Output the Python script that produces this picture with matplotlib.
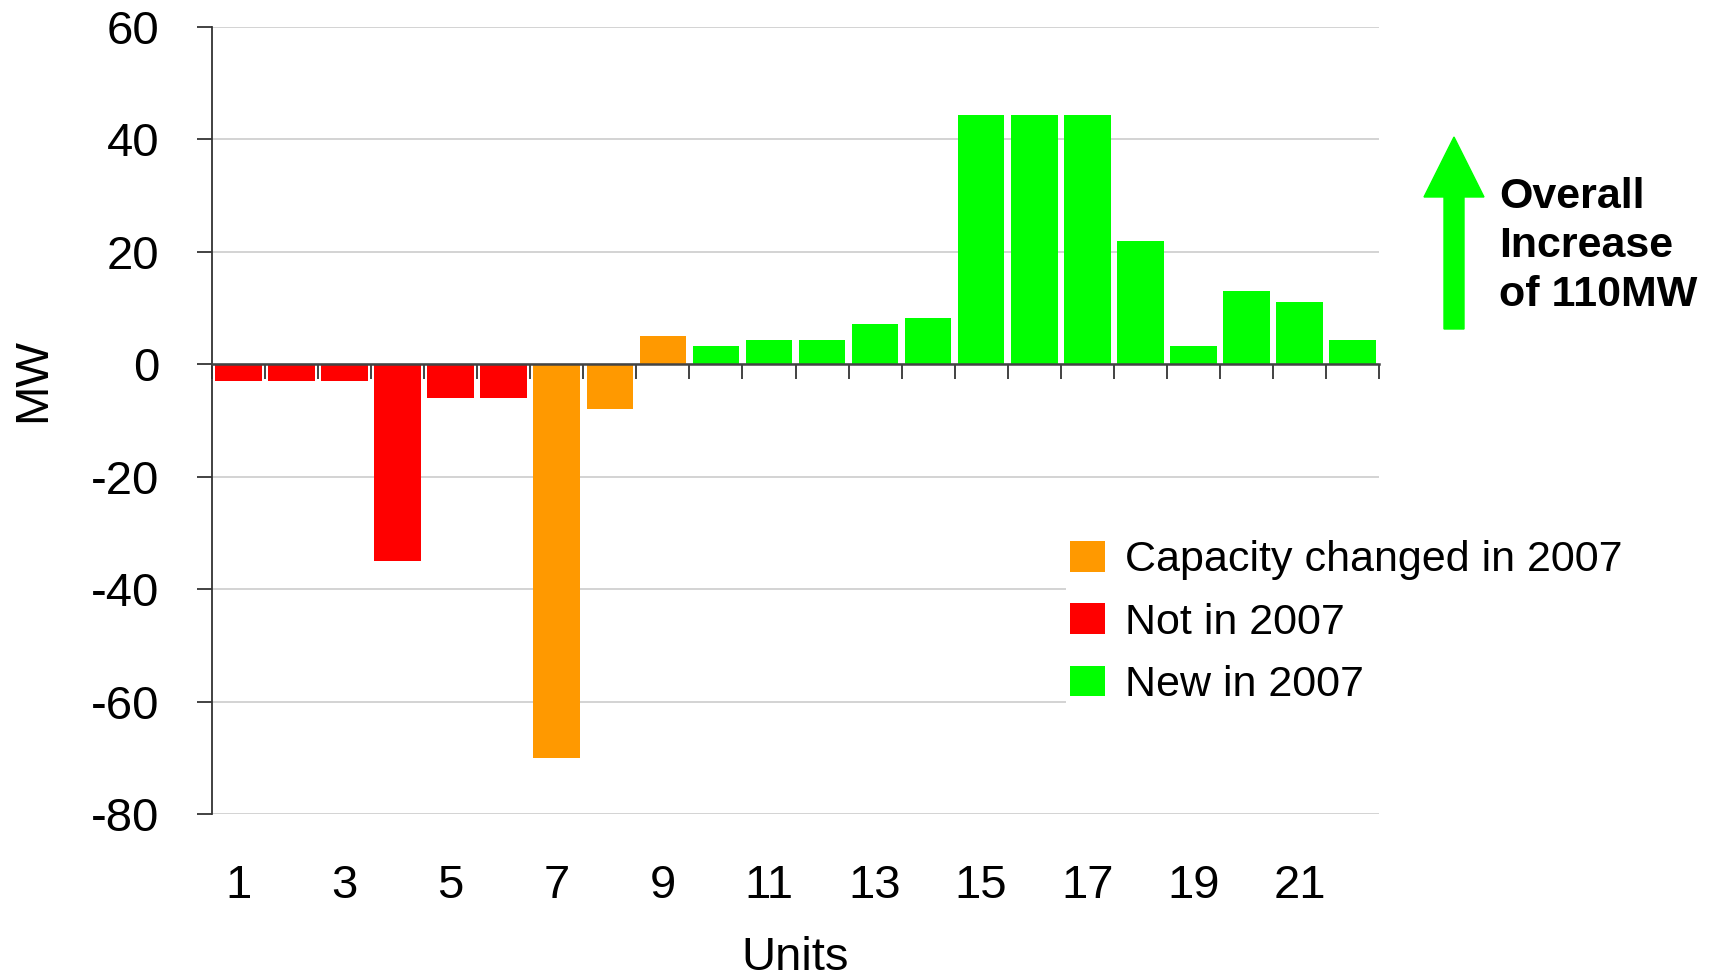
import matplotlib
matplotlib.use("Agg")
from matplotlib import pyplot as plt
from matplotlib.patches import FancyArrow, Patch
import numpy as np

W, H = 1713, 977

units = list(range(1, 23))
mw = [-3, -3, -3, -35, -6, -6, -70, -8, 5, 3.3, 4.3, 4.3, 7.2, 8.2,
      44.4, 44.4, 44.4, 21.9, 3.3, 13.1, 11, 4.3]
group = ["not", "not", "not", "not", "not", "not", "chg", "chg", "chg",
         "new", "new", "new", "new", "new", "new", "new", "new", "new",
         "new", "new", "new", "new"]
group_labels = {"chg": "Capacity changed in 2007",
                "not": "Not in 2007",
                "new": "New in 2007"}
group_colors = {"chg": "#ff9900", "not": "#ff0000", "new": "#00ff00"}
yticks = [60, 40, 20, 0, -20, -40, -60, -80]
xlabels = [1, 3, 5, 7, 9, 11, 13, 15, 17, 19, 21]
note = "Overall\nIncrease\nof 110MW"

plt.rcParams['font.family'] = ['Liberation Sans', 'DejaVu Sans']

fig = plt.figure(figsize=(W / 100, H / 100), dpi=100)
ax = fig.add_axes([212 / W, 1 - 814 / H, 1167 / W, 787 / H])

ax.bar(units, mw, width=0.88, color=[group_colors[g] for g in group], zorder=2)

ax.set_ylim(min(yticks), max(yticks))
ax.set_xlim(units[0] - 0.5, units[-1] + 0.5)
ax.set_yticks(yticks)
ax.set_yticklabels([str(t) for t in yticks])
ax.tick_params(axis='y', direction='out', length=11, width=1.2,
               color='#222222', labelsize=34, pad=27)
ax.yaxis.grid(True, color='#cccccc', linewidth=1.2)
ax.set_axisbelow(True)

for s in ['top', 'right']:
    ax.spines[s].set_visible(False)
ax.spines['left'].set_color('#333333')
ax.spines['left'].set_linewidth(1.3)

# zero line with category boundary ticks
ax.spines['bottom'].set_position(('data', 0))
ax.spines['bottom'].set_color('#444444')
ax.spines['bottom'].set_linewidth(1.8)
ax.spines['bottom'].set_zorder(3)
bounds = np.arange(units[0] - 0.5, units[-1] + 1)
ax.set_xticks(bounds, labels=[''] * len(bounds))
ax.tick_params(axis='x', direction='out', length=11, width=1.2, color='#222222')

# labels at the bottom of the plot
sec = ax.secondary_xaxis(0)
sec.set_xticks(xlabels, labels=[str(x) for x in xlabels])
sec.tick_params(axis='x', length=0, labelsize=34, pad=36)
sec.spines['bottom'].set_visible(False)
sec.set_xlabel("Units", fontsize=34, labelpad=20)

fig.text(33 / W, 1 - 380 / H, "MW", fontsize=34, rotation=90,
         ha='center', va='center')

order = ["chg", "not", "new"]
handles = [Patch(facecolor=group_colors[g], edgecolor='none', label=group_labels[g])
           for g in order]
leg = ax.legend(handles=handles, loc='upper left',
                bbox_to_anchor=(1066 / W, 1 - 536 / H),
                bbox_transform=fig.transFigure, fontsize=31,
                frameon=True, facecolor='white', edgecolor='none', framealpha=1,
                handlelength=0.81, handleheight=0.72, handletextpad=0.47,
                labelspacing=0.52, borderpad=0.1, borderaxespad=0)
leg.get_frame().set_boxstyle('square', pad=0)

arrow = FancyArrow(1454 / W, 1 - 329 / H, 0, (329 - 137) / H,
                   width=20 / W, head_width=60 / W, head_length=60 / H,
                   length_includes_head=True, color='#00ff00',
                   transform=fig.transFigure)
fig.add_artist(arrow)
fig.text(1499 / W, 1 - 246 / H, note, fontsize=31, fontweight='bold',
         ha='left', va='center', linespacing=1.29)

fig.savefig("out.png", dpi=100)
